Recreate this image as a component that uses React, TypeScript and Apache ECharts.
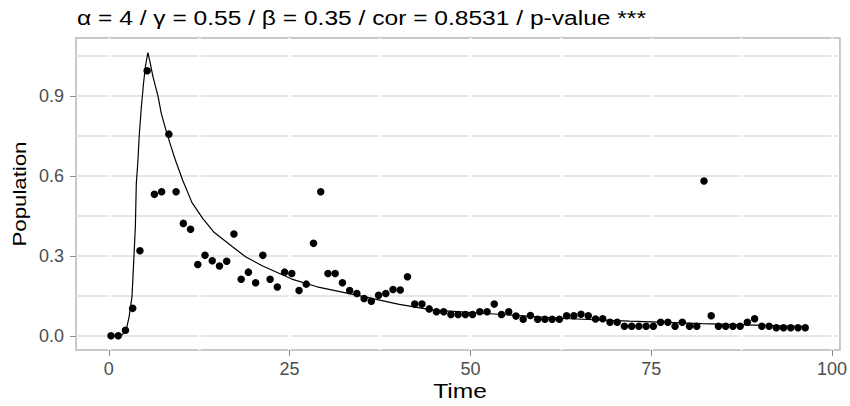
import React, { useEffect, useRef } from "react";
import * as echarts from "echarts";

const titleText = "α = 4 / γ = 0.55 / β = 0.35 / cor = 0.8531 / p-value ***";
const xName = "Time";
const yName = "Population";

const times = [
  0.3, 1.3, 2.3, 3.3, 4.3, 5.3, 6.3, 7.3, 8.3, 9.3,
  10.3, 11.3, 12.3, 13.3, 14.3, 15.3, 16.3, 17.3, 18.3, 19.3,
  20.3, 21.3, 22.3, 23.3, 24.3, 25.3, 26.3, 27.3, 28.3, 29.3,
  30.3, 31.3, 32.3, 33.3, 34.3, 35.3, 36.3, 37.3, 38.3, 39.3,
  40.3, 41.3, 42.3, 43.3, 44.3, 45.3, 46.3, 47.3, 48.3, 49.3,
  50.3, 51.3, 52.3, 53.3, 54.3, 55.3, 56.3, 57.3, 58.3, 59.3,
  60.3, 61.3, 62.3, 63.3, 64.3, 65.3, 66.3, 67.3, 68.3, 69.3,
  70.3, 71.3, 72.3, 73.3, 74.3, 75.3, 76.3, 77.3, 78.3, 79.3,
  80.3, 81.3, 82.3, 83.3, 84.3, 85.3, 86.3, 87.3, 88.3, 89.3,
  90.3, 91.3, 92.3, 93.3, 94.3, 95.3, 96.3,
];

const population = [
  0.0, 0.0, 0.021, 0.103, 0.319, 0.995, 0.531, 0.541, 0.757, 0.541,
  0.422, 0.4, 0.268, 0.302, 0.282, 0.262, 0.28, 0.382, 0.212, 0.239,
  0.199, 0.302, 0.212, 0.183, 0.239, 0.234, 0.17, 0.194, 0.347, 0.541,
  0.234, 0.234, 0.199, 0.17, 0.159, 0.14, 0.13, 0.152, 0.159, 0.174,
  0.172, 0.222, 0.119, 0.119, 0.101, 0.09, 0.09, 0.08, 0.08, 0.08,
  0.08, 0.09, 0.09, 0.119, 0.08, 0.09, 0.074, 0.062, 0.076, 0.062,
  0.062, 0.062, 0.062, 0.075, 0.075, 0.081, 0.075, 0.063, 0.064, 0.051,
  0.051, 0.036, 0.036, 0.036, 0.036, 0.036, 0.051, 0.051, 0.036, 0.051,
  0.036, 0.036, 0.581, 0.075, 0.036, 0.036, 0.036, 0.036, 0.051, 0.064,
  0.036, 0.036, 0.03, 0.03, 0.03, 0.03, 0.03,
];

const modelTime = [
  0.3, 1.7, 2.4, 2.8, 3.2, 3.45, 3.67, 3.8, 4.03, 4.2,
  4.5, 4.8, 5.05, 5.4, 5.64, 6.1, 6.8, 7.25, 7.9, 8.6,
  9.2, 10.2, 11.5, 13.0, 14.5, 17.1, 18.9, 21.2, 25.3, 28.8,
  35.4, 40.0, 44.6, 53.8, 63.0, 72.0, 82.0, 96.3,
];
const modelValue = [
  0.0, 0.0, 0.021, 0.071, 0.146, 0.284, 0.41, 0.572, 0.66, 0.75,
  0.86, 0.948, 1.01, 1.063, 1.035, 0.973, 0.9, 0.835, 0.772, 0.71,
  0.66, 0.585, 0.5, 0.44, 0.39, 0.334, 0.297, 0.263, 0.213, 0.184,
  0.146, 0.119, 0.097, 0.081, 0.065, 0.055, 0.046, 0.035,
];

const xTicks = [0, 25, 50, 75, 100];
const xMinor = [12.5, 37.5, 62.5, 87.5];
const yTicks = [0, 0.3, 0.6, 0.9];
const yMinor = [0.15, 0.45, 0.75, 1.05];

const FONT = "Liberation Sans, Arial, sans-serif";

export default function App() {
  const ref = useRef<HTMLDivElement>(null);

  useEffect(() => {
    if (!ref.current) return;
    const chart = echarts.init(ref.current, undefined, { renderer: "svg" });

    const hLines = [...yTicks, ...yMinor].map((v) => ({ yAxis: v }));
    const vLines = [...xTicks, ...xMinor].map((v) => ({ xAxis: v }));

    const option: any = {
      animation: false,
      backgroundColor: "#ffffff",
      graphic: [
        {
          type: "text",
          left: undefined,
          x: 77,
          y: 18,
          scaleX: 1.17,
          style: {
            text: titleText,
            fontFamily: FONT,
            fontSize: 21,
            fill: "#000000",
            align: "left",
            verticalAlign: "middle",
          },
        },
        {
          type: "text",
          x: 460,
          y: 391,
          scaleX: 1.17,
          style: {
            text: xName,
            fontFamily: FONT,
            fontSize: 21,
            fill: "#000000",
            align: "center",
            verticalAlign: "middle",
          },
        },
        {
          type: "text",
          x: 19,
          y: 194,
          rotation: Math.PI / 2,
          scaleX: 1.17,
          style: {
            text: yName,
            fontFamily: FONT,
            fontSize: 19,
            fill: "#000000",
            align: "center",
            verticalAlign: "middle",
          },
        },
      ],
      grid: {
        left: 76,
        top: 38,
        width: 768,
        height: 312,
        show: true,
        borderColor: "#b8b8b8",
        borderWidth: 1.5,
        backgroundColor: "#ffffff",
      },
      xAxis: {
        type: "value",
        min: -4.54,
        max: 101.1,
        axisLine: { show: false, onZero: false },
        axisTick: {
          show: true,
          length: 6,
          customValues: xTicks,
          lineStyle: { color: "#8c8c8c", width: 1 },
        },
        axisLabel: {
          customValues: xTicks,
          margin: 10,
          fontFamily: FONT,
          fontSize: 18,
          color: "#4d4d4d",
        },
        splitLine: { show: false },
      },
      yAxis: {
        type: "value",
        min: -0.0533,
        max: 1.118,
        axisLine: { show: false, onZero: false },
        axisTick: {
          show: true,
          length: 6,
          customValues: yTicks,
          lineStyle: { color: "#8c8c8c", width: 1 },
        },
        axisLabel: {
          customValues: yTicks,
          margin: 12,
          fontFamily: FONT,
          fontSize: 18,
          color: "#4d4d4d",
          formatter: (v: number) => v.toFixed(1),
        },
        splitLine: { show: false },
      },
      series: [
        {
          type: "line",
          data: [],
          z: 1,
          silent: true,
          markLine: {
            z: 1,
            silent: true,
            symbol: "none",
            animation: false,
            label: { show: false },
            lineStyle: { color: "#e6e6e6", width: 1.8, type: "solid" },
            data: hLines,
          },
        },
        {
          type: "line",
          data: [],
          z: 2,
          silent: true,
          markLine: {
            z: 2,
            silent: true,
            symbol: "none",
            animation: false,
            label: { show: false },
            lineStyle: { color: "#ffffff", width: 2.5, type: "solid" },
            data: vLines,
          },
        },
        {
          type: "line",
          z: 3,
          showSymbol: false,
          silent: true,
          lineStyle: { color: "#000000", width: 1.2 },
          data: modelTime.map((t, i) => [t, modelValue[i]]),
        },
        {
          type: "scatter",
          z: 4,
          symbolSize: 7.5,
          itemStyle: { color: "#000000", opacity: 1 },
          data: times.map((t, i) => [t, population[i]]),
        },
      ],
    };

    chart.setOption(option);
    return () => chart.dispose();
  }, []);

  return (
    <div
      ref={ref}
      style={{ position: "fixed", left: 0, top: 0, width: 850, height: 406 }}
    />
  );
}
